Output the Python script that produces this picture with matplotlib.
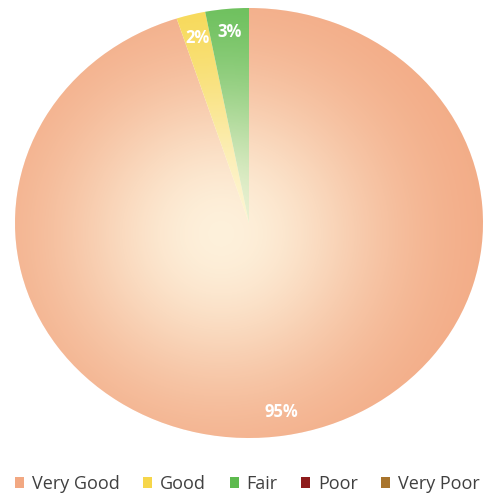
import numpy as np
import matplotlib.pyplot as plt

# survey ratings
ratings = ['Very Good', 'Good', 'Fair', 'Poor', 'Very Poor']
shares = [95, 2, 3, 0, 0]
colors = ['#F2A882', '#F6D64A', '#5DBA4E', '#8E1C1C', '#A8742C']

fig = plt.figure(figsize=(4.86, 4.97), dpi=100)
ax = fig.add_axes([15 / 486, 1 - 438 / 497, 468 / 486, 430 / 497])


def pct_label(p):
    return '{:.0f}%'.format(p) if p >= 0.5 else ''


wedges, _, autotexts = ax.pie(shares, colors=colors, startangle=90, counterclock=False,
                              autopct=pct_label, pctdistance=0.89, radius=1,
                              wedgeprops=dict(linewidth=0),
                              textprops=dict(color='white', fontweight='bold',
                                             fontsize=12, family='Open Sans'))
ax.set_aspect('auto')
ax.set_xlim(-1, 1)
ax.set_ylim(-1, 1)

# soft cream glow towards the middle of the pie
n = 400
gx, gy = np.meshgrid(np.linspace(-1, 1, n), np.linspace(-1, 1, n))
d = np.hypot((gx + 0.12) / 0.85, (gy + 0.05) / 0.9)
glow = np.zeros((n, n, 4))
glow[..., 0] = 1.0
glow[..., 1] = 0.98
glow[..., 2] = 0.90
glow[..., 3] = 0.9 * np.exp(-d ** 2 * 1.5)
im = ax.imshow(glow, extent=(-1, 1, -1, 1), origin='lower', zorder=1.5, aspect='auto')
circle = plt.Circle((0, 0), 1, transform=ax.transData)
im.set_clip_path(circle)
for t in autotexts:
    t.set_zorder(3)

fig.legend(wedges, ratings, loc='center left', bbox_to_anchor=(15 / 486, 1 - 484 / 497),
           ncol=5, frameon=False, borderaxespad=0, borderpad=0,
           handlelength=0.5, handleheight=0.5, handletextpad=0.44, columnspacing=1.3,
           prop=dict(family='Open Sans', size=13), labelcolor='#404040')

fig.savefig('out.png', dpi=100)
